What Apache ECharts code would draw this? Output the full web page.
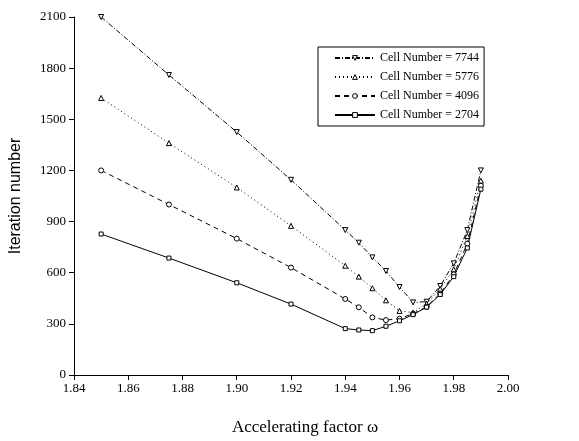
<!DOCTYPE html>
<html>
<head>
<meta charset="utf-8">
<script src="https://cdn.jsdelivr.net/npm/echarts@6/dist/echarts.min.js"></script>
<style>html,body{margin:0;padding:0;background:#fff}#c{width:579px;height:441px}</style>
</head>
<body>
<div id="c"></div>
<script>
var omega = [1.85, 1.875, 1.90, 1.92, 1.94, 1.945, 1.95, 1.955, 1.96, 1.965, 1.97, 1.975, 1.98, 1.985, 1.99];
var cell7744 = [2100, 1760, 1425, 1145, 850, 776, 690, 610, 516, 426, 430, 522, 655, 850, 1200];
var cell5776 = [1625, 1360, 1100, 875, 641, 577, 509, 438, 376, 366, 418, 505, 620, 815, 1140];
var cell4096 = [1200, 1000, 800, 630, 446, 397, 338, 322, 330, 360, 400, 478, 590, 770, 1110];
var cell2704 = [827, 686, 541, 416, 272, 264, 260, 286, 318, 354, 398, 472, 577, 745, 1090];
var seriesNames = ['Cell Number = 7744', 'Cell Number = 5776', 'Cell Number = 4096', 'Cell Number = 2704'];

function pairs(v){ return omega.map(function(x,i){ return [x, v[i]]; }); }
var chart = echarts.init(document.getElementById('c'));
var mk = function(name, data, symbol, rotate, dash){
  return {
    name: name, type: 'line', data: pairs(data),
    symbol: symbol, symbolSize: symbol === 'rect' ? 4 : 5, symbolRotate: rotate,
    showAllSymbol: true,
    lineStyle: {color: '#000', width: 1, type: dash},
    itemStyle: {color: '#fff', borderColor: '#000', borderWidth: 1},
    emphasis: {disabled: true}, animation: false
  };
};
chart.setOption({
  animation: false,
  grid: {left: 72, right: 71, top: 17, bottom: 66},
  legend: {
    top: 47, left: 318, orient: 'vertical',
    data: [
      {name: seriesNames[0], symbolRotate: 180},
      {name: seriesNames[1], symbolRotate: 0},
      {name: seriesNames[2], symbolRotate: 0},
      {name: seriesNames[3], symbolRotate: 0}
    ],
    symbolRotate: 'inherit',
    itemWidth: 40, itemHeight: 6, itemGap: 7,
    itemStyle: {color: '#fff', borderColor: '#000', borderWidth: 1},
    borderColor: '#000', borderWidth: 1, padding: [5, 5, 5, 16],
    textStyle: {fontFamily: 'Liberation Serif', fontSize: 12, color: '#000'}
  },
  xAxis: {
    type: 'value', min: 1.84, max: 2.00, interval: 0.02,
    name: 'Accelerating factor \u03c9', nameLocation: 'middle', nameGap: 44,
    nameTextStyle: {fontFamily: 'Liberation Serif', fontSize: 17, color: '#000', padding: [0, 0, 0, 28]},
    axisLine: {lineStyle: {color: '#000', width: 1}},
    axisTick: {inside: false, length: 5, lineStyle: {color: '#000'}},
    axisLabel: {fontFamily: 'Liberation Serif', fontSize: 13, color: '#000', margin: 7,
      formatter: function(v){ return v.toFixed(2); }},
    splitLine: {show: false}
  },
  yAxis: {
    type: 'value', min: 0, max: 2100, interval: 300,
    name: 'Iteration number', nameLocation: 'middle', nameGap: 50,
    nameTextStyle: {fontFamily: 'Liberation Sans', fontSize: 16, color: '#000'},
    axisLine: {show: true, lineStyle: {color: '#000', width: 1}},
    axisTick: {show: true, inside: false, length: 5, lineStyle: {color: '#000'}},
    axisLabel: {fontFamily: 'Liberation Serif', fontSize: 13, color: '#000', margin: 8,
      formatter: function(v){ return String(v); }},
    splitLine: {show: false}
  },
  series: [
    mk(seriesNames[0], cell7744, 'triangle', 180, [5, 2, 1, 2]),
    mk(seriesNames[1], cell5776, 'triangle', 0, [1, 3]),
    mk(seriesNames[2], cell4096, 'circle', 0, [5, 4]),
    mk(seriesNames[3], cell2704, 'rect', 0, 'solid')
  ]
});
</script>
</body>
</html>
